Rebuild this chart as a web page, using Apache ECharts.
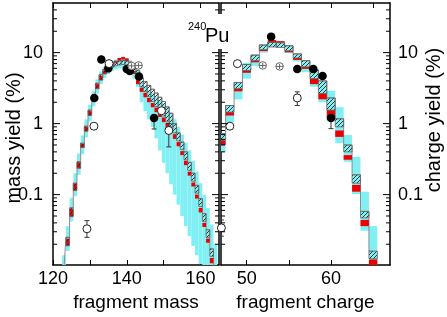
<!DOCTYPE html>
<html>
<head>
<meta charset="utf-8">
<script src="https://cdn.jsdelivr.net/npm/echarts@6/dist/echarts.min.js"></script>
<style>
html,body{margin:0;padding:0;background:#fff}
#main{width:447px;height:317px}
</style>
</head>
<body>
<div id="main"></div>
<script>
// ---- mass distribution (left panel), one bin per mass number
var massBins = [123,124,125,126,127,128,129,130,131,132,133,134,135,136,137,138,139,140,141,142,143,
  144,145,146,147,148,149,150,151,152,153,154,155,156,157,158,159,160,161,162,163,164];
var massCyanLo = [0.008,0.016,0.042,0.095,0.19,0.37,0.64,1.08,1.75,2.65,3.6,4.4,5.0,5.5,5.8,6.0,6.0,5.8,5.2,4.3,3.3,
  2.0,1.5,1.15,0.9,0.62,0.42,0.28,0.2,0.14,0.1,0.072,0.05,0.036,0.026,0.019,0.014,0.0105,0.0095,0.0095,0.0095,0.0095];
var massCyanHi = [0.014,0.036,0.09,0.2,0.38,0.68,1.15,1.85,2.9,4.2,5.4,6.3,7.2,7.7,8.0,8.4,8.6,8.4,7.8,6.8,5.6,
  4.0,3.4,3.0,2.7,2.4,2.15,1.9,1.65,1.4,1.15,0.9,0.7,0.54,0.42,0.3,0.21,0.145,0.1,0.065,0.038,0.02];
var massRedLo = [0.008,0.019,0.049,0.114,0.235,0.46,0.78,1.3,2.1,3.1,4.1,5.0,5.8,6.5,7.1,7.7,8.0,7.6,6.3,5.0,3.6,
  2.8,2.35,2.0,1.7,1.45,1.24,1.05,0.88,0.74,0.61,0.48,0.36,0.26,0.185,0.13,0.088,0.056,0.035,0.021,0.0108,0.006];
var massRedHi = [0.0095,0.024,0.063,0.143,0.285,0.52,0.9,1.5,2.45,3.6,4.7,5.6,6.4,7.1,7.7,8.4,8.7,8.3,6.9,5.5,4.1,
  3.2,2.7,2.3,1.95,1.68,1.44,1.22,1.03,0.86,0.71,0.55,0.41,0.3,0.21,0.148,0.1,0.065,0.04,0.024,0.0128,0.0075];
var massHatchLo = [0.008,0.019,0.049,0.114,0.235,0.46,0.78,1.3,2.1,3.1,4.1,5.0,5.7,6.2,6.5,6.7,6.8,6.6,6.1,5.2,4.2,
  3.3,2.8,2.4,2.05,1.75,1.5,1.28,1.08,0.9,0.74,0.57,0.43,0.31,0.22,0.155,0.105,0.068,0.042,0.025,0.0135,0.0075];
var massHatchHi = [0.0095,0.025,0.065,0.145,0.29,0.53,0.92,1.55,2.5,3.7,4.9,5.8,6.6,7.1,7.5,7.7,7.8,7.6,7.3,6.6,5.6,
  4.4,3.9,3.45,3.05,2.7,2.35,2.05,1.72,1.4,1.0,0.74,0.55,0.4,0.285,0.2,0.135,0.088,0.054,0.032,0.0172,0.009];

// ---- charge distribution (right panel)
var chargeBins = [47,48,49,50,51,52,53,54,55,56,57,58,59,60,61,62,63,64,65];
var chargeCyanLo = [0.4,1.05,2.2,4.3,6.5,10.0,12.0,11.8,9.8,7.5,5.3,3.3,2.0,1.1,0.53,0.29,0.102,0.031,0.0098];
var chargeCyanHi = [0.74,1.8,3.8,7.2,9.5,13.2,15.0,14.5,12.5,9.6,7.7,5.9,4.0,2.9,1.7,0.69,0.34,0.11,0.036];
var chargeRedLo = [0.5,1.3,2.85,5.2,7.3,10.5,14.0,13.8,10.1,7.9,5.9,3.6,2.2,1.17,0.65,0.31,0.11,0.036,0.0098];
var chargeRedHi = [0.58,1.45,3.1,5.6,7.7,11.0,15.0,14.5,10.6,8.4,6.3,4.3,2.65,1.55,0.8,0.36,0.137,0.044,0.0122];
var chargeHatchLo = [0.58,1.45,3.1,5.6,7.7,11.0,12.0,11.8,10.6,8.4,6.3,4.3,2.65,1.55,0.9,0.4,0.145,0.047,0.0125];
var chargeHatchHi = [0.72,1.8,3.8,6.8,9.2,12.8,14.0,13.8,12.5,9.6,7.7,5.7,4.0,2.3,1.17,0.5,0.19,0.058,0.016];

// ---- measured points [x, y] and error bars [x, low, high]
var massBlack = [[131.2,2.3],[133.1,8.0],[135,6.0],[140,5.9],[140.8,5.5],[143.3,4.6],[147.4,1.2]];
var massOpen = [[129.2,0.033],[131.1,0.92],[135.2,7.0],[149.4,1.52],[151.4,0.8]];
var massCross = [[141.3,6.5],[143.2,6.6]];
var massErr = [[129.2,0.025,0.043],[147.4,0.84,1.3],[151.4,0.47,1.0]];
var chargeBlack = [[52.9,16.8],[56,5.9],[57.9,5.9],[59,4.7],[60,1.2]];
var chargeOpen = [[47,0.034],[48,0.92],[48.9,7.0],[56,2.3]];
var chargeCross = [[51.9,6.6],[53.9,6.4]];
var chargeErr = [[47,0.026,0.044],[56,1.8,2.8],[60,0.85,1.3]];

// ---- axes
var massTicks = [120,130,140,150,160];
var massLabels = [120,140,160];
var chargeTicks = [50,55,60,65];
var chargeLabels = [50,60];
var yMajor = [0.1,1,10];
var yTickLabels = ['0.1','1','10'];
var yMinor = [0.02,0.03,0.04,0.05,0.06,0.07,0.08,0.09,0.2,0.3,0.4,0.5,0.6,0.7,0.8,0.9,
  2,3,4,5,6,7,8,9,20,30,40];

var FONT = 'Liberation Sans, Arial, sans-serif';
var yMin = 0.0102, yMax = 50;
var massRange = [120,165], chargeRange = [46.95,67];

var myChart = echarts.init(document.getElementById('main'));

// diagonal hatch pattern
function makeHatch(){
	var c = document.createElement('canvas');
	c.width = 4; c.height = 4;
	var g = c.getContext('2d');
	g.strokeStyle = '#222';
	g.lineWidth = 0.9;
	g.beginPath();
	g.moveTo(0,4); g.lineTo(4,0);
	g.moveTo(-1,1); g.lineTo(1,-1);
	g.moveTo(3,5); g.lineTo(5,3);
	g.stroke();
	return c;
}
var hatchFill = {image: makeHatch(), repeat: 'repeat'};

function boxes(bins, lo, hi){
	var out = [];
	for(var i=0;i<bins.length;i++){ out.push([bins[i], lo[i], hi[i]]); }
	return out;
}
function steps(bins, vals){
	var out = [];
	for(var i=0;i<bins.length;i++){ out.push([bins[i], vals[i]]); }
	return out;
}

function boxRender(fill, stroke){
	return function(params, api){
		var a = api.coord([api.value(0)-0.5, api.value(2)]);
		var b = api.coord([api.value(0)+0.5, api.value(1)]);
		return {
			type:'rect',
			shape:{x:a[0], y:a[1], width:b[0]-a[0], height:b[1]-a[1]},
			style:{fill:fill, stroke:stroke || null, lineWidth: stroke ? 0.8 : 0}
		};
	};
}

function errRender(params, api){
	var x = api.value(0);
	var a = api.coord([x, api.value(2)]);
	var b = api.coord([x, api.value(1)]);
	var w = 2.5, st = {stroke:'#333', lineWidth:1};
	return {type:'group', children:[
		{type:'line', shape:{x1:a[0], y1:a[1], x2:b[0], y2:b[1]}, style:st},
		{type:'line', shape:{x1:a[0]-w, y1:a[1], x2:a[0]+w, y2:a[1]}, style:st},
		{type:'line', shape:{x1:b[0]-w, y1:b[1], x2:b[0]+w, y2:b[1]}, style:st}
	]};
}

// log ticks on both vertical sides of a panel
function tickRender(range){
	return function(params, api){
		var kids = [];
		function add(v, len){
			var l = api.coord([range[0], v]), r = api.coord([range[1], v]);
			var st = {stroke:'#000', lineWidth:1};
			kids.push({type:'line', shape:{x1:l[0], y1:l[1], x2:l[0]+len, y2:l[1]}, style:st});
			kids.push({type:'line', shape:{x1:r[0]-len, y1:r[1], x2:r[0], y2:r[1]}, style:st});
		}
		for(var i=0;i<yMajor.length;i++) add(yMajor[i], 7);
		for(var j=0;j<yMinor.length;j++) add(yMinor[j], 4);
		return {type:'group', children:kids};
	};
}

function yLabel(v){
	for(var i=0;i<yMajor.length;i++){
		if(Math.abs(v-yMajor[i]) < yMajor[i]*1e-6) return yTickLabels[i];
	}
	return '';
}

function yAx(grid, pos, labels, margin){
	return {
		type:'log', logBase:10, gridIndex:grid, position:pos, min:yMin, max:yMax,
		axisLine:{show:true, onZero:false, lineStyle:{color:'#000', width:1.5}},
		axisTick:{show:false}, minorTick:{show:false}, splitLine:{show:false},
		axisLabel:{show:labels, formatter:yLabel, color:'#000', fontSize:18, fontFamily:FONT, margin:margin, hideOverlap:false}
	};
}
function xAx(grid, pos, range, ticks, labels, name){
	return {
		type:'value', gridIndex:grid, position:pos, min:range[0], max:range[1],
		name:name || '', nameLocation:'middle', nameGap:28,
		nameTextStyle:{color:'#000', fontSize:19, fontFamily:FONT},
		axisLine:{show:true, onZero:false, lineStyle:{color:'#000', width:1.5}},
		axisTick:{show:true, inside:true, length:5, customValues:ticks, lineStyle:{color:'#000', width:1}},
		splitLine:{show:false},
		axisLabel:{show:!!labels, customValues:labels || [], color:'#000', fontSize:18, fontFamily:FONT, margin:5, hideOverlap:false}
	};
}

function panelSeries(xi, yi, bins, cLo, cHi, rLo, rHi, hLo, hHi, black, open, cross, err, range){
	var base = {xAxisIndex:xi, yAxisIndex:yi};
	return [
		Object.assign({type:'custom', renderItem:boxRender('#80f0f4'), data:boxes(bins,cLo,cHi), clip:true, z:1}, base),
		Object.assign({type:'line', data:steps(bins,hHi), step:'middle', showSymbol:false, clip:true,
			lineStyle:{color:'#8c8c8c', width:1}, z:2}, base),
		Object.assign({type:'custom', renderItem:boxRender('#ee0000'), data:boxes(bins,rLo,rHi), clip:true, z:3}, base),
		Object.assign({type:'custom', renderItem:boxRender(hatchFill,'#666'), data:boxes(bins,hLo,hHi), clip:true, z:4}, base),
		Object.assign({type:'custom', renderItem:tickRender(range), data:[[range[0],1]], clip:false, silent:true, z:9}, base),
		Object.assign({type:'custom', renderItem:errRender, data:err, clip:true, z:5}, base),
		Object.assign({type:'scatter', data:black, symbol:'circle', symbolSize:8.5,
			itemStyle:{color:'#000', opacity:1}, z:6}, base),
		Object.assign({type:'scatter', data:open, symbol:'circle', symbolSize:8,
			itemStyle:{color:'#fff', borderColor:'#222', borderWidth:1, opacity:1}, z:7}, base),
		Object.assign({type:'scatter', data:cross, symbolSize:7.5,
			symbol:'path://M10,0A10,10 0 1,1 10,20A10,10 0 1,1 10,0Z M0,10L20,10 M10,3L10,17',
			itemStyle:{color:'#fff', borderColor:'#666', borderWidth:1, opacity:1}, z:7}, base)
	];
}

var option = {
	animation:false,
	backgroundColor:'#fff',
	grid:[
		{left:53, top:3, width:166, height:262, containLabel:false, outerBoundsMode:'none'},
		{left:221, top:3, width:169, height:262, containLabel:false, outerBoundsMode:'none'}
	],
	xAxis:[
		xAx(0,'bottom',massRange,massTicks,massLabels,'fragment mass'),
		xAx(0,'top',massRange,massTicks,null,''),
		xAx(1,'bottom',chargeRange,chargeTicks,chargeLabels,'fragment charge'),
		xAx(1,'top',chargeRange,chargeTicks,null,'')
	],
	yAxis:[
		yAx(0,'left',true,10),
		yAx(0,'right',false,8),
		yAx(1,'left',false,8),
		yAx(1,'right',true,8)
	],
	series:[].concat(
		panelSeries(0,0,massBins,massCyanLo,massCyanHi,massRedLo,massRedHi,massHatchLo,massHatchHi,
			massBlack,massOpen,massCross,massErr,massRange),
		panelSeries(2,3,chargeBins,chargeCyanLo,chargeCyanHi,chargeRedLo,chargeRedHi,chargeHatchLo,chargeHatchHi,
			chargeBlack,chargeOpen,chargeCross,chargeErr,chargeRange)
	),
	graphic:[
		{type:'rect', z:100, shape:{x:186, y:14, width:48, height:35}, style:{fill:'#fff'}},
		{type:'text', z:101, x:188, y:27, style:{text:'240', fontSize:11, fontFamily:FONT, fill:'#000', verticalAlign:'middle'}},
		{type:'text', z:101, x:205, y:36, style:{text:'Pu', fontSize:20, fontFamily:FONT, fill:'#000', verticalAlign:'middle'}},
		{type:'text', z:101, x:14, y:138, rotation:Math.PI/2,
			style:{text:'mass yield (%)', fontSize:20, fontFamily:FONT, fill:'#000', align:'center', verticalAlign:'middle'}},
		{type:'text', z:101, x:434, y:120, rotation:Math.PI/2,
			style:{text:'charge yield (%)', fontSize:20, fontFamily:FONT, fill:'#000', align:'center', verticalAlign:'middle'}}
	]
};

myChart.setOption(option);
</script>
</body>
</html>
